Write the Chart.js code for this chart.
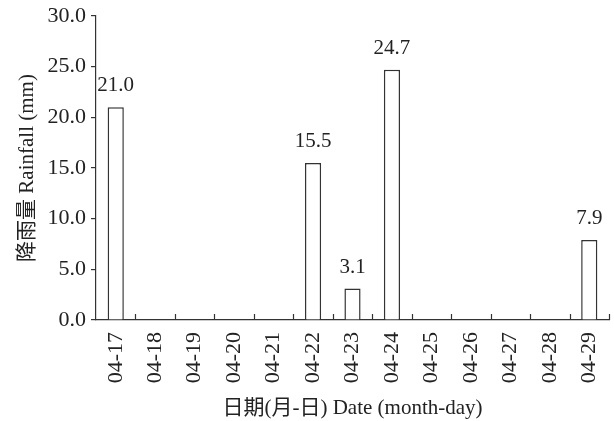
<!DOCTYPE html>
<html><head><meta charset="utf-8">
<script src="https://cdn.jsdelivr.net/npm/chart.js@4.4.1/dist/chart.umd.min.js"></script>
<style>html,body{margin:0;padding:0;background:#fff;}#wrap{width:614px;height:421px;}</style>
</head><body><div id="wrap"><canvas id="c" width="614" height="421"></canvas></div>
<script>
const categories = ['04-17','04-18','04-19','04-20','04-21','04-22','04-23','04-24','04-25','04-26','04-27','04-28','04-29'];
const rainfall = [21.0, 0, 0, 0, 0, 15.5, 3.1, 24.7, 0, 0, 0, 0, 7.9];
const yTitle = '降雨量 Rainfall (mm)';
const xTitle = '日期(月-日) Date (month-day)';
const FONT = "'Liberation Serif', 'Noto Sans CJK SC', serif";
const INK = '#222';
const AX = '#333';

const valueLabels = {
  id: 'valueLabels',
  afterDatasetsDraw(chart) {
    const ctx = chart.ctx;
    const meta = chart.getDatasetMeta(0);
    ctx.save();
    ctx.fillStyle = INK;
    ctx.font = '21px ' + FONT;
    ctx.textAlign = 'center';
    ctx.textBaseline = 'bottom';
    meta.data.forEach((bar, i) => {
      const v = rainfall[i];
      if (v > 0) ctx.fillText(v.toFixed(1), bar.x, bar.y - 11);
    });
    ctx.restore();
  }
};

const innerTicks = {
  id: 'innerTicks',
  afterDraw(chart) {
    const xs = chart.scales.x;
    const ctx = chart.ctx;
    const n = categories.length;
    const half = (xs.getPixelForValue(1) - xs.getPixelForValue(0)) / 2;
    const y0 = chart.chartArea.bottom;
    ctx.save();
    ctx.strokeStyle = AX;
    ctx.lineWidth = 1.2;
    ctx.beginPath();
    for (let i = 0; i < n; i++) {
      const x = Math.round(xs.getPixelForValue(i) + half) + 0.5;
      ctx.moveTo(x, y0);
      ctx.lineTo(x, y0 - 6);
    }
    ctx.stroke();
    ctx.restore();
  }
};

new Chart(document.getElementById('c'), {
  type: 'bar',
  data: {
    labels: categories,
    datasets: [{
      data: rainfall,
      backgroundColor: '#fff',
      borderColor: AX,
      borderWidth: 1.5,
      barPercentage: 0.41,
      categoryPercentage: 1.0
    }]
  },
  options: {
    responsive: false,
    animation: false,
    layout: { padding: { top: 16, right: 5, left: 0, bottom: 0 } },
    plugins: { legend: { display: false }, tooltip: { enabled: false } },
    scales: {
      x: {
        offset: true,
        grid: { display: false, drawTicks: false },
        border: { display: true, color: AX, width: 1.2 },
        ticks: { color: INK, font: { family: FONT, size: 22 }, minRotation: 90, maxRotation: 90, padding: 12, autoSkip: false },
        title: { display: true, text: xTitle, color: INK, font: { family: FONT, size: 21 }, padding: { top: 4, bottom: 0 } },
        afterFit(s) { s.height = 101; s.paddingRight = 0; s.paddingLeft = 0; }
      },
      y: {
        min: 0, max: 30,
        grid: { drawOnChartArea: false, drawTicks: true, tickLength: 5, color: AX, lineWidth: 1.2 },
        border: { display: true, color: AX, width: 1.2 },
        ticks: { stepSize: 5, color: INK, font: { family: FONT, size: 22 }, padding: 5, callback: v => Number(v).toFixed(1) },
        title: { display: true, text: yTitle, color: INK, font: { family: FONT, size: 21 }, padding: { top: 15, bottom: 4 } },
        afterFit(s) { s.width = 96; s.paddingTop = 0; s.paddingBottom = 0; }
      }
    }
  },
  plugins: [valueLabels, innerTicks]
});
</script></body></html>
